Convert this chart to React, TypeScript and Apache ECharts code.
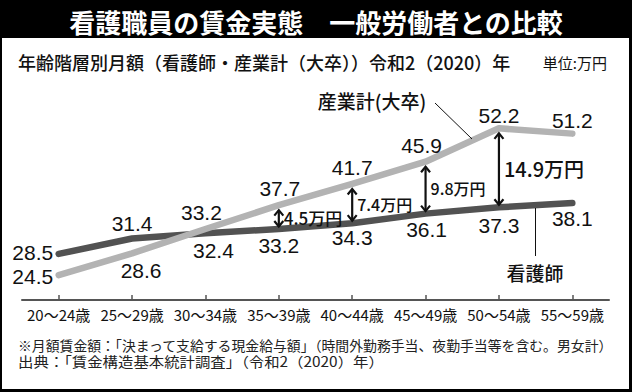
import React, { useEffect, useRef } from "react";
import * as echarts from "echarts";

const categories = ["20～24歳", "25～29歳", "30～34歳", "35～39歳", "40～44歳", "45～49歳", "50～54歳", "55～59歳"];
const nurse = [28.5, 31.4, 32.4, 33.2, 34.3, 36.1, 37.3, 38.1];
const industry = [24.5, 28.6, 33.2, 37.7, 41.7, 45.9, 52.2, 51.2];
const gapIdx = [3, 4, 5, 6];
const gapFontSizes = [17, 16, 16, 20];

const title = "看護職員の賃金実態　一般労働者との比較";
const subtitle = "年齢階層別月額（看護師・産業計（大卒））令和2（2020）年";
const unitText = "単位:万円";
const nurseName = "看護師";
const industryName = "産業計(大卒)";
const note1 = "※月額賃金額：「決まって支給する現金給与額」（時間外勤務手当、夜勤手当等を含む。男女計）";
const note2 = "出典：「賃金構造基本統計調査」（令和2（2020）年）";

const FF = '"Noto Sans CJK JP", "Noto Sans", sans-serif';
const FD = '"Liberation Sans", Arial, sans-serif';

// label placement per point (style, not data)
const nurseLabelPos = ["left", "top", "bottom", "bottom", "bottom", "bottom", "bottom", "bottom"];
const nurseLabelDist = [5, 5.5, 7.5, 6.5, 4.5, 6.5, 8.5, 5.5];
const nurseLabelOff = [[0, -1.5], [0, 0], [8, 0], [0, 0], [0, 0], [1, 0], [0, 0], [0, 0]];
const indLabelPos = ["left", "bottom", "top", "top", "top", "top", "top", "top"];
const indLabelDist = [5, 7.5, 7, 7, 6.5, 7, 3.5, 4];
const indLabelOff = [[0, 1.5], [9, 0], [-4, 0], [1, 0], [0, 0], [-4, 0], [0, 0], [0, 0]];

export default function App() {
  const ref = useRef<HTMLDivElement>(null);
  useEffect(() => {
    if (!ref.current) return;
    const chart = echarts.init(ref.current, undefined, { renderer: "svg" });
    const lbl = (pos: string, dist: number, off: number[]) => ({
      show: true,
      position: pos,
      distance: dist,
      offset: off,
      fontSize: 21,
      lineHeight: 18,
      fontFamily: FD,
      color: "#111",
    });
    const option: any = {
      animation: false,
      backgroundColor: "#000",
      grid: { left: 22, right: 23, top: 87, bottom: 92 },
      xAxis: {
        type: "category",
        data: categories,
        boundaryGap: true,
        axisLine: { show: true, lineStyle: { color: "#555", width: 2 } },
        axisTick: { show: true, alignWithLabel: true, inside: true, length: 5, lineStyle: { color: "#555", width: 1.5 } },
        axisLabel: { margin: 7, fontSize: 15, lineHeight: 15, color: "#111", fontFamily: FF, interval: 0 },
      },
      yAxis: { type: "value", min: 19.8, max: 60, show: false },
      graphic: [
        { type: "rect", z: -10, shape: { x: 2, y: 38, width: 627, height: 351 }, style: { fill: "#fff" } },
        {
          type: "text", z: 100, x: 316, y: 21,
          style: { text: title, fill: "#fff", fontSize: 26, fontWeight: "bold", fontFamily: FF, align: "center", verticalAlign: "middle" },
        },
        {
          type: "text", z: 100, x: 18, y: 62,
          style: { text: subtitle, fill: "#111", fontSize: 18, fontWeight: 500, fontFamily: FF, align: "left", verticalAlign: "middle" },
        },
        {
          type: "text", z: 100, x: 607, y: 62,
          style: { text: unitText, fill: "#111", fontSize: 15, fontFamily: FF, align: "right", verticalAlign: "middle" },
        },
        {
          type: "text", z: 100, x: 372, y: 100,
          style: { text: industryName, fill: "#111", fontSize: 19, fontWeight: 500, fontFamily: FF, align: "center", verticalAlign: "middle" },
        },
        { type: "line", z: 100, shape: { x1: 435, y1: 103, x2: 472, y2: 139 }, style: { stroke: "#111", lineWidth: 1 } },
        {
          type: "text", z: 100, x: 535, y: 272,
          style: { text: nurseName, fill: "#111", fontSize: 19, fontWeight: 500, fontFamily: FF, align: "center", verticalAlign: "middle" },
        },
        { type: "line", z: 100, shape: { x1: 535.5, y1: 208, x2: 535.5, y2: 256 }, style: { stroke: "#111", lineWidth: 1 } },
        {
          type: "text", z: 100, x: 18, y: 345, scaleX: 0.99,
          style: { text: note1, fill: "#222", fontSize: 14, fontFamily: FF, align: "left", verticalAlign: "middle" },
        },
        {
          type: "text", z: 100, x: 18, y: 361, scaleX: 1.1,
          style: { text: note2, fill: "#222", fontSize: 14, fontFamily: FF, align: "left", verticalAlign: "middle" },
        },
      ],
      series: [
        {
          name: nurseName,
          type: "line",
          z: 2,
          symbol: "circle",
          symbolSize: 1,
          showSymbol: true,
          itemStyle: { color: "#525252" },
          lineStyle: { color: "#525252", width: 6.5, cap: "round", join: "round" },
          data: nurse.map((v, i) => ({ value: v, label: lbl(nurseLabelPos[i], nurseLabelDist[i], nurseLabelOff[i]) })),
        },
        {
          name: industryName,
          type: "line",
          z: 3,
          symbol: "circle",
          symbolSize: 1,
          showSymbol: true,
          itemStyle: { color: "#b3b3b3" },
          lineStyle: { color: "#b3b3b3", width: 6.5, cap: "round", join: "round" },
          data: industry.map((v, i) => ({ value: v, label: lbl(indLabelPos[i], indLabelDist[i], indLabelOff[i]) })),
        },
        {
          type: "custom",
          z: 5,
          clip: false,
          encode: { x: 0, y: [1, 2] },
          data: gapIdx.map((i) => [i, nurse[i], industry[i]]),
          renderItem: (params: any, api: any) => {
            const i = api.value(0);
            const lo = api.value(1);
            const hi = api.value(2);
            const pTop = api.coord([i, hi]);
            const pBot = api.coord([i, lo]);
            const x = pTop[0];
            const y1 = pTop[1] + 5;
            const y2 = pBot[1] - 2.5;
            const fs = gapFontSizes[params.dataIndex];
            const st = { stroke: "#111", lineWidth: 2.2, fill: "none" };
            return {
              type: "group",
              children: [
                { type: "line", shape: { x1: x, y1: y1, x2: x, y2: y2 }, style: { stroke: "#111", lineWidth: 2.2 } },
                { type: "polyline", shape: { points: [[x - 4.5, y1 + 5.5], [x, y1], [x + 4.5, y1 + 5.5]] }, style: st },
                { type: "polyline", shape: { points: [[x - 4.5, y2 - 5.5], [x, y2], [x + 4.5, y2 - 5.5]] }, style: st },
                {
                  type: "text",
                  x: x + 5,
                  y: (y1 + y2) / 2 - 1,
                  style: {
                    text: (hi - lo).toFixed(1) + "万円",
                    fill: "#111",
                    fontSize: fs,
                    fontWeight: 500,
                    fontFamily: FF,
                    align: "left",
                    verticalAlign: "middle",
                  },
                },
              ],
            };
          },
        },
      ],
    };
    chart.setOption(option);
    return () => chart.dispose();
  }, []);
  return <div ref={ref} style={{ position: "absolute", left: 0, top: 0, width: 632, height: 392 }} />;
}
